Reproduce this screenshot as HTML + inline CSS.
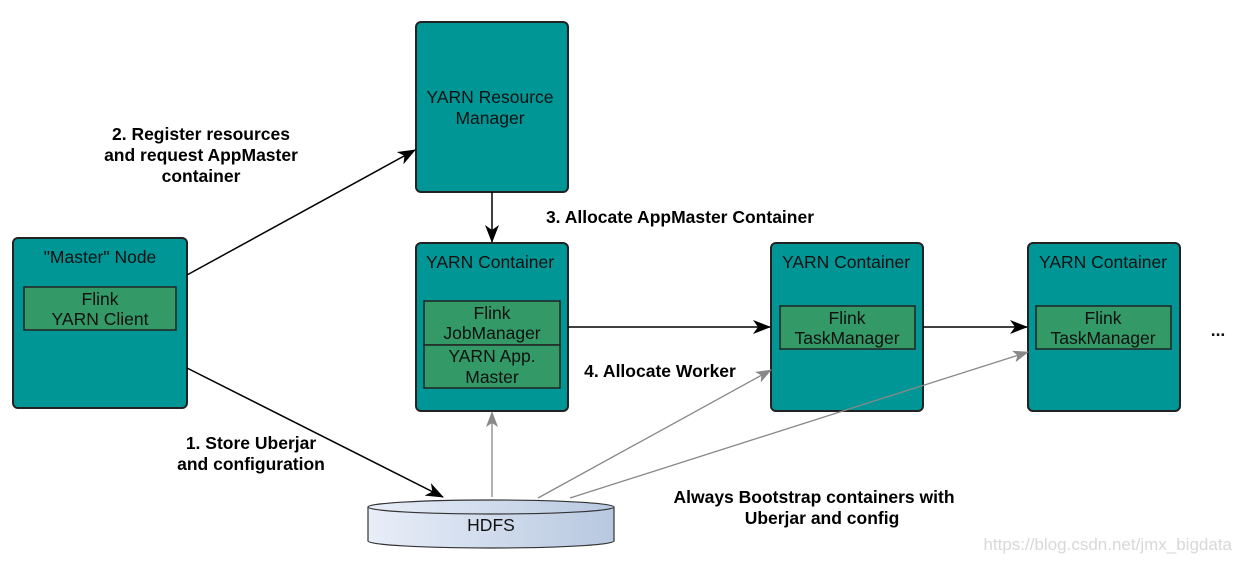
<!DOCTYPE html>
<html><head><style>body{margin:0;background:#fff}svg{display:block}text{font-family:"Liberation Sans",sans-serif}</style></head><body>
<svg width="1240" height="562" viewBox="0 0 1240 562">
<defs>
<marker id="a" markerWidth="18" markerHeight="14" refX="17" refY="7" orient="auto" markerUnits="userSpaceOnUse"><path d="M0,0 L18,7 L0,14 L5,7 z" fill="#000"/></marker>
<marker id="g" markerWidth="16" markerHeight="12" refX="15" refY="6" orient="auto" markerUnits="userSpaceOnUse"><path d="M0,0 L16,6 L0,12 L4,6 z" fill="#888"/></marker>
<linearGradient id="hg" x1="0" x2="1"><stop offset="0" stop-color="#e8eef8"/><stop offset="1" stop-color="#b8c8e0"/></linearGradient>
</defs>
<g stroke="#222" stroke-width="2" fill="#009696">
<rect x="13" y="238" width="174" height="170" rx="5"/>
<rect x="416" y="22" width="152" height="170" rx="5"/>
<rect x="416" y="243" width="152" height="168" rx="5"/>
<rect x="771" y="243" width="152" height="168" rx="5"/>
<rect x="1028" y="243" width="152" height="168" rx="5"/>
</g>
<g stroke="#222" stroke-width="1.5" fill="#339966">
<rect x="24" y="287" width="152" height="43"/>
<rect x="424" y="301" width="136" height="44"/>
<rect x="424" y="345" width="136" height="43"/>
<rect x="780" y="306" width="135" height="43"/>
<rect x="1036" y="306" width="135" height="43"/>
</g>
<g font-size="17.5" fill="#111" text-anchor="middle">
<text x="100" y="263">"Master" Node</text>
<text x="100" y="305">Flink</text><text x="100" y="325">YARN Client</text>
<text x="490" y="103">YARN Resource</text><text x="490" y="124">Manager</text>
<text x="490" y="268">YARN Container</text>
<text x="492" y="319">Flink</text><text x="492" y="339">JobManager</text>
<text x="492" y="362">YARN App.</text><text x="492" y="383">Master</text>
<text x="846" y="268">YARN Container</text>
<text x="847" y="324">Flink</text><text x="847" y="344">TaskManager</text>
<text x="1103" y="268">YARN Container</text>
<text x="1103" y="324">Flink</text><text x="1103" y="344">TaskManager</text>
<text x="1218" y="336" font-weight="bold">...</text>
</g>
<g stroke="#888" stroke-width="1.3" fill="none">
<line x1="492" y1="497" x2="492" y2="412" marker-end="url(#g)"/>
<line x1="538" y1="498" x2="771" y2="370" marker-end="url(#g)"/>
<line x1="570" y1="498" x2="1028" y2="352" marker-end="url(#g)"/>
</g>
<g stroke="#000" stroke-width="1.5" fill="none">
<line x1="187" y1="275" x2="415" y2="150" marker-end="url(#a)"/>
<line x1="187" y1="368" x2="443" y2="497" marker-end="url(#a)"/>
<line x1="492" y1="192" x2="492" y2="242" marker-end="url(#a)"/>
<line x1="568" y1="327" x2="770" y2="327" marker-end="url(#a)"/>
<line x1="923" y1="327" x2="1027" y2="327" marker-end="url(#a)"/>
</g>
<path d="M368,507 L368,541 A123,7 0 0 0 614,541 L614,507" fill="url(#hg)" stroke="#333" stroke-width="1.2"/>
<ellipse cx="491" cy="507" rx="123" ry="7" fill="url(#hg)" stroke="#333" stroke-width="1.2"/>
<text x="491" y="531" font-size="17.5" text-anchor="middle" fill="#111">HDFS</text>
<g font-size="17.5" font-weight="bold" fill="#000" text-anchor="middle">
<text x="201" y="140">2. Register resources</text>
<text x="201" y="161">and request AppMaster</text>
<text x="201" y="182">container</text>
<text x="680" y="223">3. Allocate AppMaster Container</text>
<text x="660" y="377">4. Allocate Worker</text>
<text x="251" y="449">1. Store Uberjar</text>
<text x="251" y="470">and configuration</text>
<text x="814" y="503">Always Bootstrap containers with</text>
<text x="822" y="524">Uberjar and config</text>
</g>
<text x="1232" y="550" font-size="17" text-anchor="end" fill="#d8d8d8">https://blog.csdn.net/jmx_bigdata</text>
</svg>
</body></html>
